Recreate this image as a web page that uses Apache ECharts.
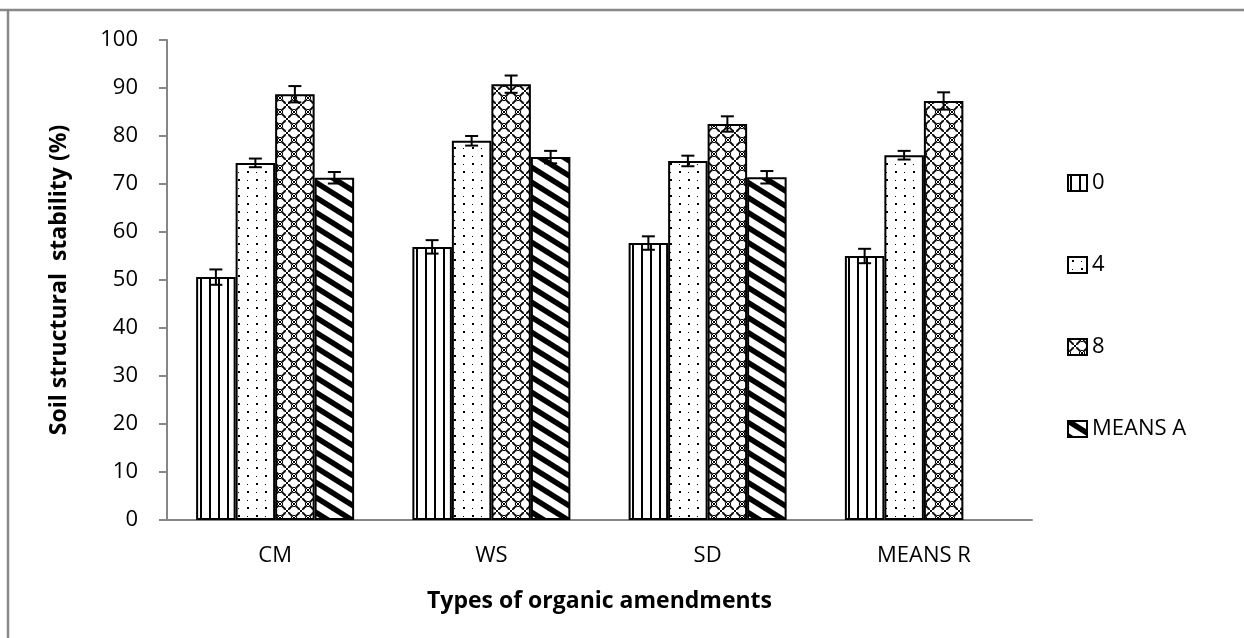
<!DOCTYPE html>
<html><head><meta charset="utf-8">
<script src="https://cdn.jsdelivr.net/npm/echarts@6/dist/echarts.min.js"></script>
<style>html,body{margin:0;padding:0;background:#fff}#c{width:1244px;height:638px}</style>
</head><body><div id="c"></div>
<script>
const categories = ['CM', 'WS', 'SD', 'MEANS R'];
const seriesNames = ['0', '4', '8', 'MEANS A'];
const values0 = [50.6, 56.9, 57.7, 55.0];
const values4 = [74.4, 79.0, 74.8, 76.0];
const values8 = [88.7, 90.8, 82.5, 87.3];
const valuesMA = [71.3, 75.6, 71.4, null];
const err0 = [1.6, 1.4, 1.4, 1.5];
const err4 = [0.9, 1.0, 1.1, 0.9];
const err8 = [1.7, 1.8, 1.6, 1.8];
const errMA = [1.2, 1.3, 1.3, null];
const yMin = 0, yMax = 100, yStep = 10;

const BAR_W = 39.5;
const FONT = '"Open Sans", "Liberation Sans", sans-serif';

function makeTile(w, h, draw) {
  const c = document.createElement('canvas');
  c.width = w; c.height = h;
  const g = c.getContext('2d');
  g.fillStyle = '#fff'; g.fillRect(0, 0, w, h);
  g.fillStyle = '#000'; g.strokeStyle = '#000';
  draw(g, w, h);
  return { image: c, repeat: 'repeat' };
}
const patVert = makeTile(9, 9, (g) => { g.fillRect(2, 0, 2, 9); });
const patDots = makeTile(18, 16, (g) => {
  g.fillRect(4, 3, 2, 2); g.fillRect(13, 4, 1, 1);
  g.fillRect(13, 11, 2, 2); g.fillRect(4, 12, 1, 1);
});
const patLattice = makeTile(14, 14, (g) => {
  g.lineWidth = 1;
  g.beginPath(); g.moveTo(0, 0); g.lineTo(14, 14); g.moveTo(14, 0); g.lineTo(0, 14); g.stroke();
  const r = 4.6;
  [[7, 0], [0, 7], [14, 7], [7, 14]].forEach(([x, y]) => {
    g.beginPath(); g.arc(x, y, r, 0, Math.PI * 2); g.stroke();
  });
  g.fillStyle = '#fff';
  g.fillRect(6, 3, 2, 2); g.fillRect(3, 6, 2, 2); g.fillRect(9, 6, 2, 2); g.fillRect(6, 9, 2, 2);
});
const patDiag = makeTile(24, 15, (g, w, h) => {
  g.lineWidth = 5.5;
  for (let k = -1; k <= 1; k++) {
    g.beginPath(); g.moveTo(-w, -h + k * h); g.lineTo(2 * w, 2 * h + k * h); g.stroke();
  }
});
const patterns = [patVert, patDots, patLattice, patDiag];
const allValues = [values0, values4, values8, valuesMA];
const allErrs = [err0, err4, err8, errMA];

const barSeries = seriesNames.map((n, i) => ({
  name: n, type: 'bar', barWidth: BAR_W, barGap: '0%',
  data: allValues[i].map(v => v == null ? '-' : v),
  itemStyle: { color: patterns[i], borderColor: '#000', borderWidth: 2 },
  emphasis: { disabled: true },
  z: 2
}));

const errSeries = seriesNames.map((n, i) => ({
  name: 'err' + i, type: 'custom', z: 10, silent: true,
  data: allValues[i].map((v, j) => v == null ? null : [j, v, allErrs[i][j]]).filter(d => d),
  encode: { x: 0, y: 1 },
  renderItem: function (params, api) {
    const c = api.value(0), v = api.value(1), e = api.value(2);
    const t = api.coord([c, v + e]);
    const b = api.coord([c, v - e]);
    const x = t[0] + (i - 1.5) * BAR_W;
    const cap = 6.5;
    const st = { stroke: '#000', lineWidth: 2 };
    return {
      type: 'group', children: [
        { type: 'line', shape: { x1: x, y1: t[1], x2: x, y2: b[1] }, style: st },
        { type: 'line', shape: { x1: x - cap, y1: t[1], x2: x + cap, y2: t[1] }, style: st },
        { type: 'line', shape: { x1: x - cap, y1: b[1], x2: x + cap, y2: b[1] }, style: st }
      ]
    };
  }
}));

const chart = echarts.init(document.getElementById('c'), null, { renderer: 'canvas' });
chart.setOption({
  animation: false,
  backgroundColor: '#fff',
  grid: { left: 167, right: 212, top: 40, bottom: 118, containLabel: false },
  legend: {
    orient: 'vertical', left: 1062, top: 167,
    data: seriesNames, icon: 'rect', itemWidth: 19, itemHeight: 16, itemGap: 60,
    textStyle: { fontFamily: FONT, fontSize: 22, color: '#000', lineHeight: 22 },
    selectedMode: false
  },
  xAxis: {
    type: 'category', data: categories,
    axisLine: { lineStyle: { color: '#868686', width: 2 } },
    axisTick: { show: false },
    axisLabel: { fontFamily: FONT, fontSize: 22, color: '#000', margin: 25 },
    name: 'Types of organic amendments', nameLocation: 'middle', nameGap: 70,
    nameTextStyle: { fontFamily: FONT, fontSize: 23, fontWeight: 'bold', color: '#000' }
  },
  yAxis: {
    type: 'value', min: yMin, max: yMax, interval: yStep,
    axisLine: { show: true, lineStyle: { color: '#868686', width: 2 } },
    axisTick: { show: true, length: 8, lineStyle: { color: '#868686', width: 2 } },
    splitLine: { show: false },
    axisLabel: { fontFamily: FONT, fontSize: 22, color: '#000', margin: 29 },
    name: 'Soil structural  stability (%)', nameLocation: 'middle', nameGap: 96, nameRotate: 90,
    nameTextStyle: { fontFamily: FONT, fontSize: 23, fontWeight: 'bold', color: '#000' }
  },
  graphic: [
    { type: 'line', shape: { x1: 0, y1: 10, x2: 1244, y2: 10 }, style: { stroke: '#888', lineWidth: 2.5 } },
    { type: 'line', shape: { x1: 8, y1: 10, x2: 8, y2: 638 }, style: { stroke: '#888', lineWidth: 2.5 } }
  ],
  series: barSeries.concat(errSeries)
});
</script></body></html>
